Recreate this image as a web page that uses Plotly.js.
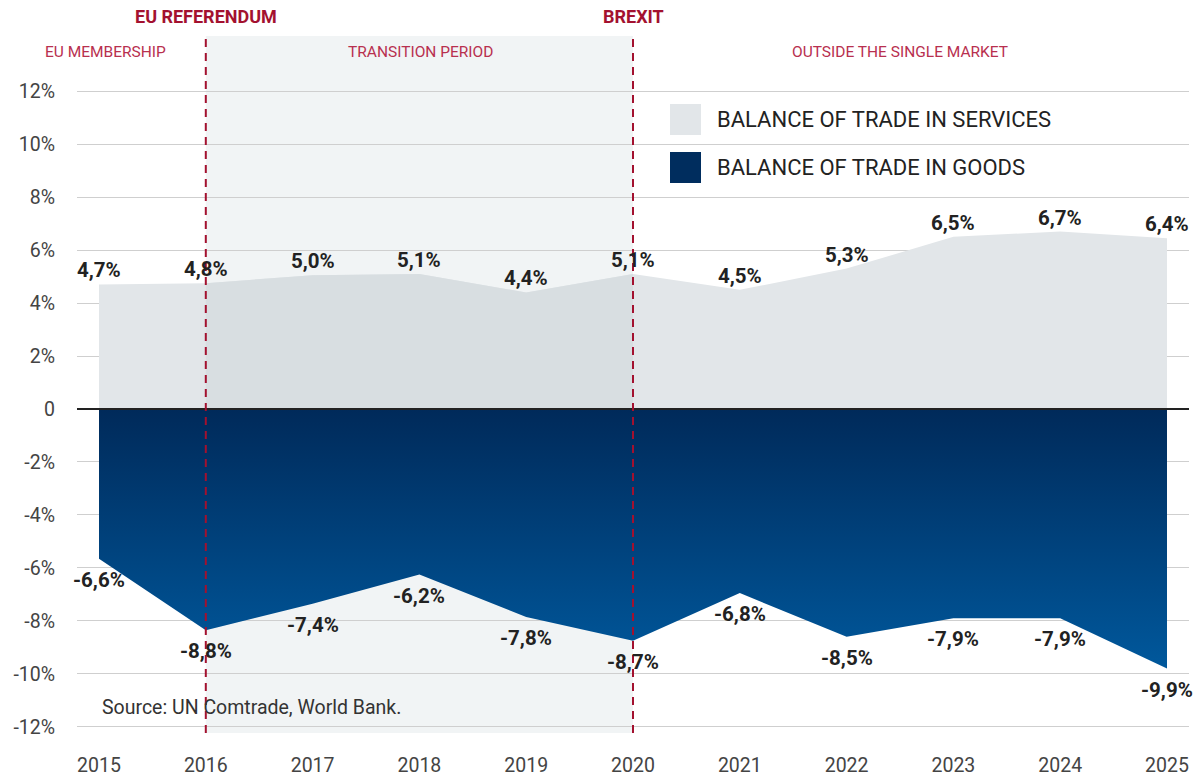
<!DOCTYPE html>
<html>
<head>
<meta charset="utf-8">
<script src="https://cdn.plot.ly/plotly-3.0.1.min.js"></script>
<style>html,body{margin:0;padding:0;background:#fff;}#chart{width:1194px;height:778px;}</style>
</head>
<body>
<div id="chart"></div>
<script>
// ---- data ----
const years = [2015, 2016, 2017, 2018, 2019, 2020, 2021, 2022, 2023, 2024, 2025];
const services = [4.7, 4.75, 5.05, 5.1, 4.4, 5.1, 4.5, 5.3, 6.5, 6.7, 6.45];
const servicesLabels = ["4,7%", "4,8%", "5,0%", "5,1%", "4,4%", "5,1%", "4,5%", "5,3%", "6,5%", "6,7%", "6,4%"];
const goods = [-5.65, -8.35, -7.35, -6.25, -7.85, -8.75, -6.95, -8.6, -7.9, -7.9, -9.8];
const goodsLabels = ["-6,6%", "-8,8%", "-7,4%", "-6,2%", "-7,8%", "-8,7%", "-6,8%", "-8,5%", "-7,9%", "-7,9%", "-9,9%"];
const yTicks = [-12, -10, -8, -6, -4, -2, 0, 2, 4, 6, 8, 10, 12];
const yTickText = ["-12%", "-10%", "-8%", "-6%", "-4%", "-2%", "0", "2%", "4%", "6%", "8%", "10%", "12%"];
const referendumYear = 2016;
const brexitYear = 2020;
const periodLabels = ["EU MEMBERSHIP", "TRANSITION PERIOD", "OUTSIDE THE SINGLE MARKET"];
const eventLabels = ["EU REFERENDUM", "BREXIT"];
const legendLabels = ["BALANCE OF TRADE IN SERVICES", "BALANCE OF TRADE IN GOODS"];
const sourceText = "Source: UN Comtrade, World Bank.";

// ---- layout geometry ----
const W = 1194, H = 778;
const M = {l: 77, r: 5, t: 36, b: 45};
const PW = W - M.l - M.r, PH = H - M.t - M.b;
const px2x = p => (p - M.l) / PW;        // paper x
const py2y = p => (H - M.b - p) / PH;    // paper y

const FONT = "Roboto, 'Liberation Sans', sans-serif";
const SERV_COL = "#e2e6e9";
const SERV_SHADE_COL = "#d8dee1";
const GOODS_TOP = "#002a5a";
const GOODS_BOT = "#00589c";
const RED = "#a3112f";
const RED_LIGHT = "#b8304f";

const i0 = years.indexOf(referendumYear), i1 = years.indexOf(brexitYear);

const traces = [
  {
    x: years, y: goods, type: "scatter", mode: "lines",
    fill: "tozeroy", line: {width: 0, color: GOODS_BOT},
    fillgradient: {type: "vertical", start: Math.min(...goods), stop: 0,
      colorscale: [[0, GOODS_BOT], [1, GOODS_TOP]]},
    hoverinfo: "skip", showlegend: false
  },
  {
    x: years, y: services, type: "scatter", mode: "lines",
    fill: "tozeroy", fillcolor: SERV_COL, line: {width: 0, color: SERV_COL},
    hoverinfo: "skip", showlegend: false
  },
  {
    x: years.slice(i0, i1 + 1), y: services.slice(i0, i1 + 1), type: "scatter", mode: "lines",
    fill: "tozeroy", fillcolor: SERV_SHADE_COL, line: {width: 0, color: SERV_SHADE_COL},
    hoverinfo: "skip", showlegend: false
  }
];

const LBL = {family: FONT, size: 20.5, color: "#222", weight: 700};
const annotations = [];
years.forEach((yr, i) => {
  annotations.push({x: yr, y: services[i], xref: "x", yref: "y", text: servicesLabels[i],
    xanchor: "center", yanchor: "middle", showarrow: false, yshift: 14, font: LBL});
  annotations.push({x: yr, y: goods[i], xref: "x", yref: "y", text: goodsLabels[i],
    xanchor: "center", yanchor: "middle", showarrow: false, yshift: -21, font: LBL});
});
function pAnn(text, px, py, font, xanchor) {
  return {x: px2x(px), y: py2y(py), xref: "paper", yref: "paper", text: text,
    xanchor: xanchor || "center", yanchor: "middle", showarrow: false, font: font};
}
// event labels
const EVF = {family: FONT, size: 18, color: RED, weight: 700};
annotations.push({x: referendumYear, y: py2y(17), xref: "x", yref: "paper", text: eventLabels[0],
  xanchor: "center", yanchor: "middle", showarrow: false, font: EVF});
annotations.push({x: brexitYear, y: py2y(17), xref: "x", yref: "paper", text: eventLabels[1],
  xanchor: "center", yanchor: "middle", showarrow: false, font: EVF});
// period labels
const PF = {family: FONT, size: 15.5, color: RED_LIGHT};
annotations.push(pAnn(periodLabels[0], 105, 52, PF));
annotations.push(pAnn(periodLabels[1], 420, 52, PF));
annotations.push(pAnn(periodLabels[2], 900, 52, PF));
// legend text
const LF = {family: FONT, size: 22, color: "#222"};
annotations.push(pAnn(legendLabels[0], 715, 119, LF, "left"));
annotations.push(pAnn(legendLabels[1], 715, 168, LF, "left"));
// source
annotations.push(pAnn(sourceText, 100, 707, {family: FONT, size: 19.5, color: "#333"}, "left"));

const shapes = [
  {type: "rect", xref: "x", yref: "paper", x0: referendumYear, x1: brexitYear, y0: 0, y1: 1,
    fillcolor: "#f1f4f5", line: {width: 0}, layer: "below"},
  {type: "line", xref: "paper", yref: "y", x0: 0, x1: 1, y0: 0, y1: 0,
    line: {color: "#222", width: 2}, layer: "above"},
  {type: "line", xref: "x", yref: "paper", x0: referendumYear, x1: referendumYear, y0: 0, y1: 1,
    line: {color: RED, width: 2, dash: "8px,6px"}, layer: "above"},
  {type: "line", xref: "x", yref: "paper", x0: brexitYear, x1: brexitYear, y0: 0, y1: 1,
    line: {color: RED, width: 2, dash: "8px,6px"}, layer: "above"},
  {type: "rect", xref: "paper", yref: "paper", x0: px2x(670), x1: px2x(701), y0: py2y(135), y1: py2y(104),
    fillcolor: SERV_COL, line: {width: 0}, layer: "above"},
  {type: "rect", xref: "paper", yref: "paper", x0: px2x(670), x1: px2x(701), y0: py2y(183), y1: py2y(152),
    fillcolor: "#002d5e", line: {width: 0}, layer: "above"}
];

const xPerPx = 10 / (1167 - 99);
const layout = {
  width: W, height: H,
  margin: M,
  paper_bgcolor: "#fff", plot_bgcolor: "rgba(0,0,0,0)",
  font: {family: FONT, color: "#444"},
  showlegend: false,
  xaxis: {
    range: [2015 - (99 - M.l) * xPerPx, 2015 - (99 - M.l) * xPerPx + PW * xPerPx],
    tickvals: years, ticktext: years.map(String),
    showgrid: false, zeroline: false, showline: false, ticks: "",
    tickfont: {family: FONT, size: 19.5, color: "#444"},
    ticklabelstandoff: 18, fixedrange: true
  },
  yaxis: {
    range: [-12.23, 14.08],
    tickvals: yTicks, ticktext: yTickText,
    showgrid: true, gridcolor: "#cfcfcf", gridwidth: 1,
    zeroline: false, showline: false, ticks: "",
    tickfont: {family: FONT, size: 19.5, color: "#444"},
    ticklabelstandoff: 21, fixedrange: true
  },
  shapes: shapes,
  annotations: annotations
};

Plotly.newPlot("chart", traces, layout, {displayModeBar: false, staticPlot: true});
</script>
</body>
</html>
